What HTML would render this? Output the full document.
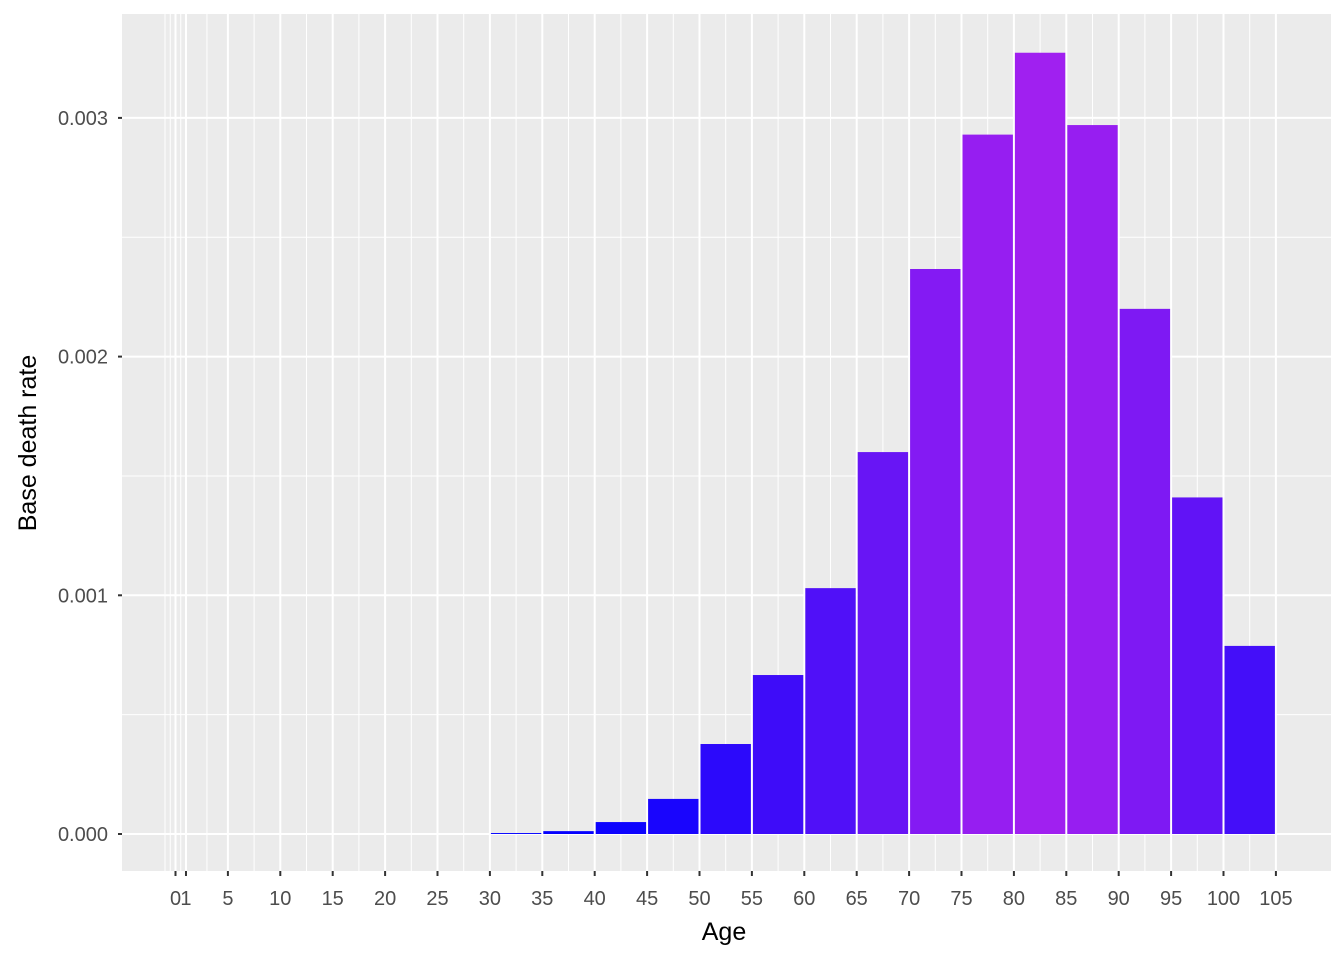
<!DOCTYPE html>
<html><head><meta charset="utf-8"><style>
body{margin:0;background:#fff}
svg{display:block;font-family:"Liberation Sans",Arial,sans-serif}
</style></head><body>
<svg id="c" width="1344" height="960"></svg>
<script>
const ages=[30,35,40,45,50,55,60,65,70,75,80,85,90,95,100];
const rates=[0.000004,0.000012,0.00005,0.000147,0.000377,0.000666,0.00103,0.0016,0.002367,0.00293,0.003273,0.00297,0.0022,0.00141,0.000788];
const xBreaks=[0,1,5,10,15,20,25,30,35,40,45,50,55,60,65,70,75,80,85,90,95,100,105];
const xMinor=[-1,-0.5,0.5,3,7.5,12.5,17.5,22.5,27.5,32.5,37.5,42.5,47.5,52.5,57.5,62.5,67.5,72.5,77.5,82.5,87.5,92.5,97.5,102.5];
const yBreaks=[0,0.001,0.002,0.003];
const yLabels=["0.000","0.001","0.002","0.003"];
const yMinor=[0.0005,0.0015,0.0025];
const NS="http://www.w3.org/2000/svg";
const svg=document.getElementById('c');
const P={l:122,r:1331,t:14,b:871};
const X=a=>175.5+a*10.48;
const Y=v=>834-v*238700;
function el(t,a,p){const e=document.createElementNS(NS,t);for(const k in a)e.setAttribute(k,a[k]);(p||svg).appendChild(e);return e;}
const bg=el('rect',{x:P.l,y:P.t,width:P.r-P.l,height:P.b-P.t,fill:'#EBEBEB'});


yMinor.forEach(v=>{const l=el('line',{x1:P.l,x2:P.r,y1:Y(v),y2:Y(v),stroke:'#fff','stroke-width':1});

});
xMinor.forEach(v=>{const l=el('line',{x1:X(v),x2:X(v),y1:P.t,y2:P.b,stroke:'#fff','stroke-width':1});

});
yBreaks.forEach((v,i)=>{const l=el('line',{x1:P.l,x2:P.r,y1:Y(v),y2:Y(v),stroke:'#fff','stroke-width':2});


const tk=el('line',{x1:P.l-4,x2:P.l,y1:Y(v),y2:Y(v),stroke:'#333','stroke-width':2});


const t=el('text',{x:P.l-14,y:Y(v)+7,'text-anchor':'end','font-size':20,fill:'#4D4D4D'});t.textContent=yLabels[i];

});
xBreaks.forEach(v=>{const l=el('line',{x1:X(v),x2:X(v),y1:P.t,y2:P.b,stroke:'#fff','stroke-width':2});


const tk=el('line',{x1:X(v),x2:X(v),y1:P.b,y2:P.b+5,stroke:'#333','stroke-width':2});


const t=el('text',{x:X(v),y:905,'text-anchor':'middle','font-size':20,fill:'#4D4D4D'});t.textContent=String(v);

});
const mx=Math.max(...rates);
function col(v){const t=Math.pow(v/mx,0.6);const r=Math.round(160*t),g=Math.round(32*t),b=Math.round(255-15*t);return `rgb(${r},${g},${b})`;}
ages.forEach((a,i)=>{const x0=X(a)+1,x1=X(a+5)-1;const y=Y(rates[i]);
const b=el('rect',{x:x0,y:y,width:x1-x0,height:Math.max(0.8,Y(0)-y),fill:col(rates[i])});

});
const xt=el('text',{x:724,y:940,'text-anchor':'middle','font-size':25,fill:'#000'});xt.textContent='Age';


const yt=el('text',{x:0,y:0,'text-anchor':'middle','font-size':25,fill:'#000',transform:'translate(36,443) rotate(-90)'});yt.textContent='Base death rate';


</script>
</body></html>
